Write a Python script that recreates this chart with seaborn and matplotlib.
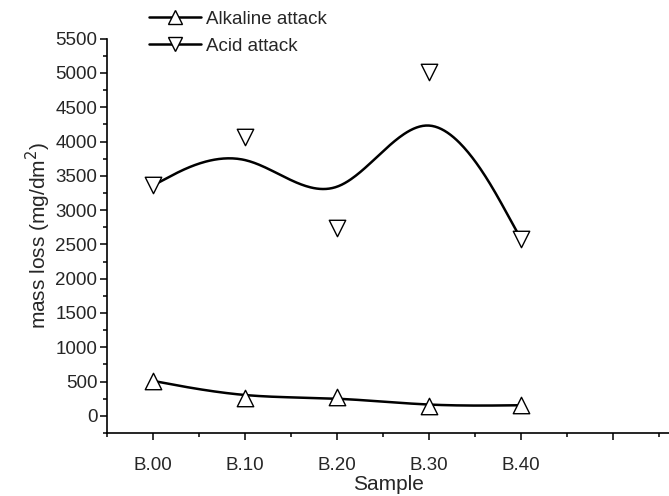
import numpy as np
import pandas as pd
import matplotlib
matplotlib.use('Agg')
import matplotlib.pyplot as plt
from matplotlib.lines import Line2D
from matplotlib.ticker import MultipleLocator
import seaborn as sns

samples = ['B.00', 'B.10', 'B.20', 'B.30', 'B.40']
alkaline = [510, 260, 275, 140, 155]
acid = [3360, 4070, 2740, 5020, 2580]

sns.set_theme(style='ticks')
plt.rcParams['font.family'] = ['Liberation Sans', 'DejaVu Sans']


def bspline(xs, ys, n=60):
    # uniform cubic B-spline, end points repeated so the curve starts/ends on them
    px = np.r_[[xs[0]] * 2, xs, [xs[-1]] * 2].astype(float)
    py = np.r_[[ys[0]] * 2, ys, [ys[-1]] * 2].astype(float)
    t = np.linspace(0, 1, n)
    b0 = (1 - t) ** 3 / 6
    b1 = (3 * t ** 3 - 6 * t ** 2 + 4) / 6
    b2 = (-3 * t ** 3 + 3 * t ** 2 + 3 * t + 1) / 6
    b3 = t ** 3 / 6
    cx, cy = [], []
    for i in range(len(px) - 3):
        cx.append(b0 * px[i] + b1 * px[i + 1] + b2 * px[i + 2] + b3 * px[i + 3])
        cy.append(b0 * py[i] + b1 * py[i + 1] + b2 * py[i + 2] + b3 * py[i + 3])
    return np.concatenate(cx), np.concatenate(cy)


pos = np.arange(len(samples))
df = pd.DataFrame({'pos': np.tile(pos, 2),
                   'loss': alkaline + acid,
                   'attack': ['Alkaline attack'] * 5 + ['Acid attack'] * 5})

fig = plt.figure(figsize=(6.69, 4.96), dpi=100)
ax = fig.add_axes([0.16, 0.127, 0.84, 0.795])

for name, marker in [('Alkaline attack', '^'), ('Acid attack', 'v')]:
    sub = df[df['attack'] == name]
    cx, cy = bspline(sub['pos'].values, sub['loss'].values)
    sns.lineplot(x=cx, y=cy, ax=ax, color='black', lw=1.8, sort=False, estimator=None)
    sns.scatterplot(data=sub, x='pos', y='loss', ax=ax, marker=marker, s=140,
                    facecolor='white', edgecolor='black', linewidth=1.0, zorder=3)

ax.set_xlim(-0.5, 5.61)
ax.set_ylim(-250, 5500)
ax.set_xticks(range(6))
ax.set_xticklabels(samples + [''])
ax.xaxis.set_minor_locator(MultipleLocator(0.5))
ax.yaxis.set_major_locator(MultipleLocator(500))
ax.yaxis.set_minor_locator(MultipleLocator(250))
ax.tick_params(which='major', length=5, width=1.1, labelsize=13.5, color='black')
ax.tick_params(which='minor', length=3, width=1.1, color='black')
ax.tick_params(axis='x', pad=12)
ax.tick_params(axis='y', pad=2)
for s in ['top', 'right']:
    ax.spines[s].set_visible(False)
for s in ['left', 'bottom']:
    ax.spines[s].set_linewidth(1.2)
    ax.spines[s].set_color('black')

ax.set_xlabel('Sample', fontsize=15, labelpad=1)
ax.set_ylabel('mass loss (mg/dm$^2$)', fontsize=15, labelpad=2)

handles = [Line2D([], [], color='black', lw=1.8, marker=m, markersize=10.5,
                  markerfacecolor='white', markeredgecolor='black', markeredgewidth=1.0)
           for m in ['^', 'v']]
fig.legend(handles, ['Alkaline attack', 'Acid attack'], loc='upper left',
           bbox_to_anchor=(0.197, 1.012), frameon=False, fontsize=13.5,
           handlelength=2.8, handletextpad=0.25, labelspacing=0.5)

plt.savefig('out.png', dpi=100)
